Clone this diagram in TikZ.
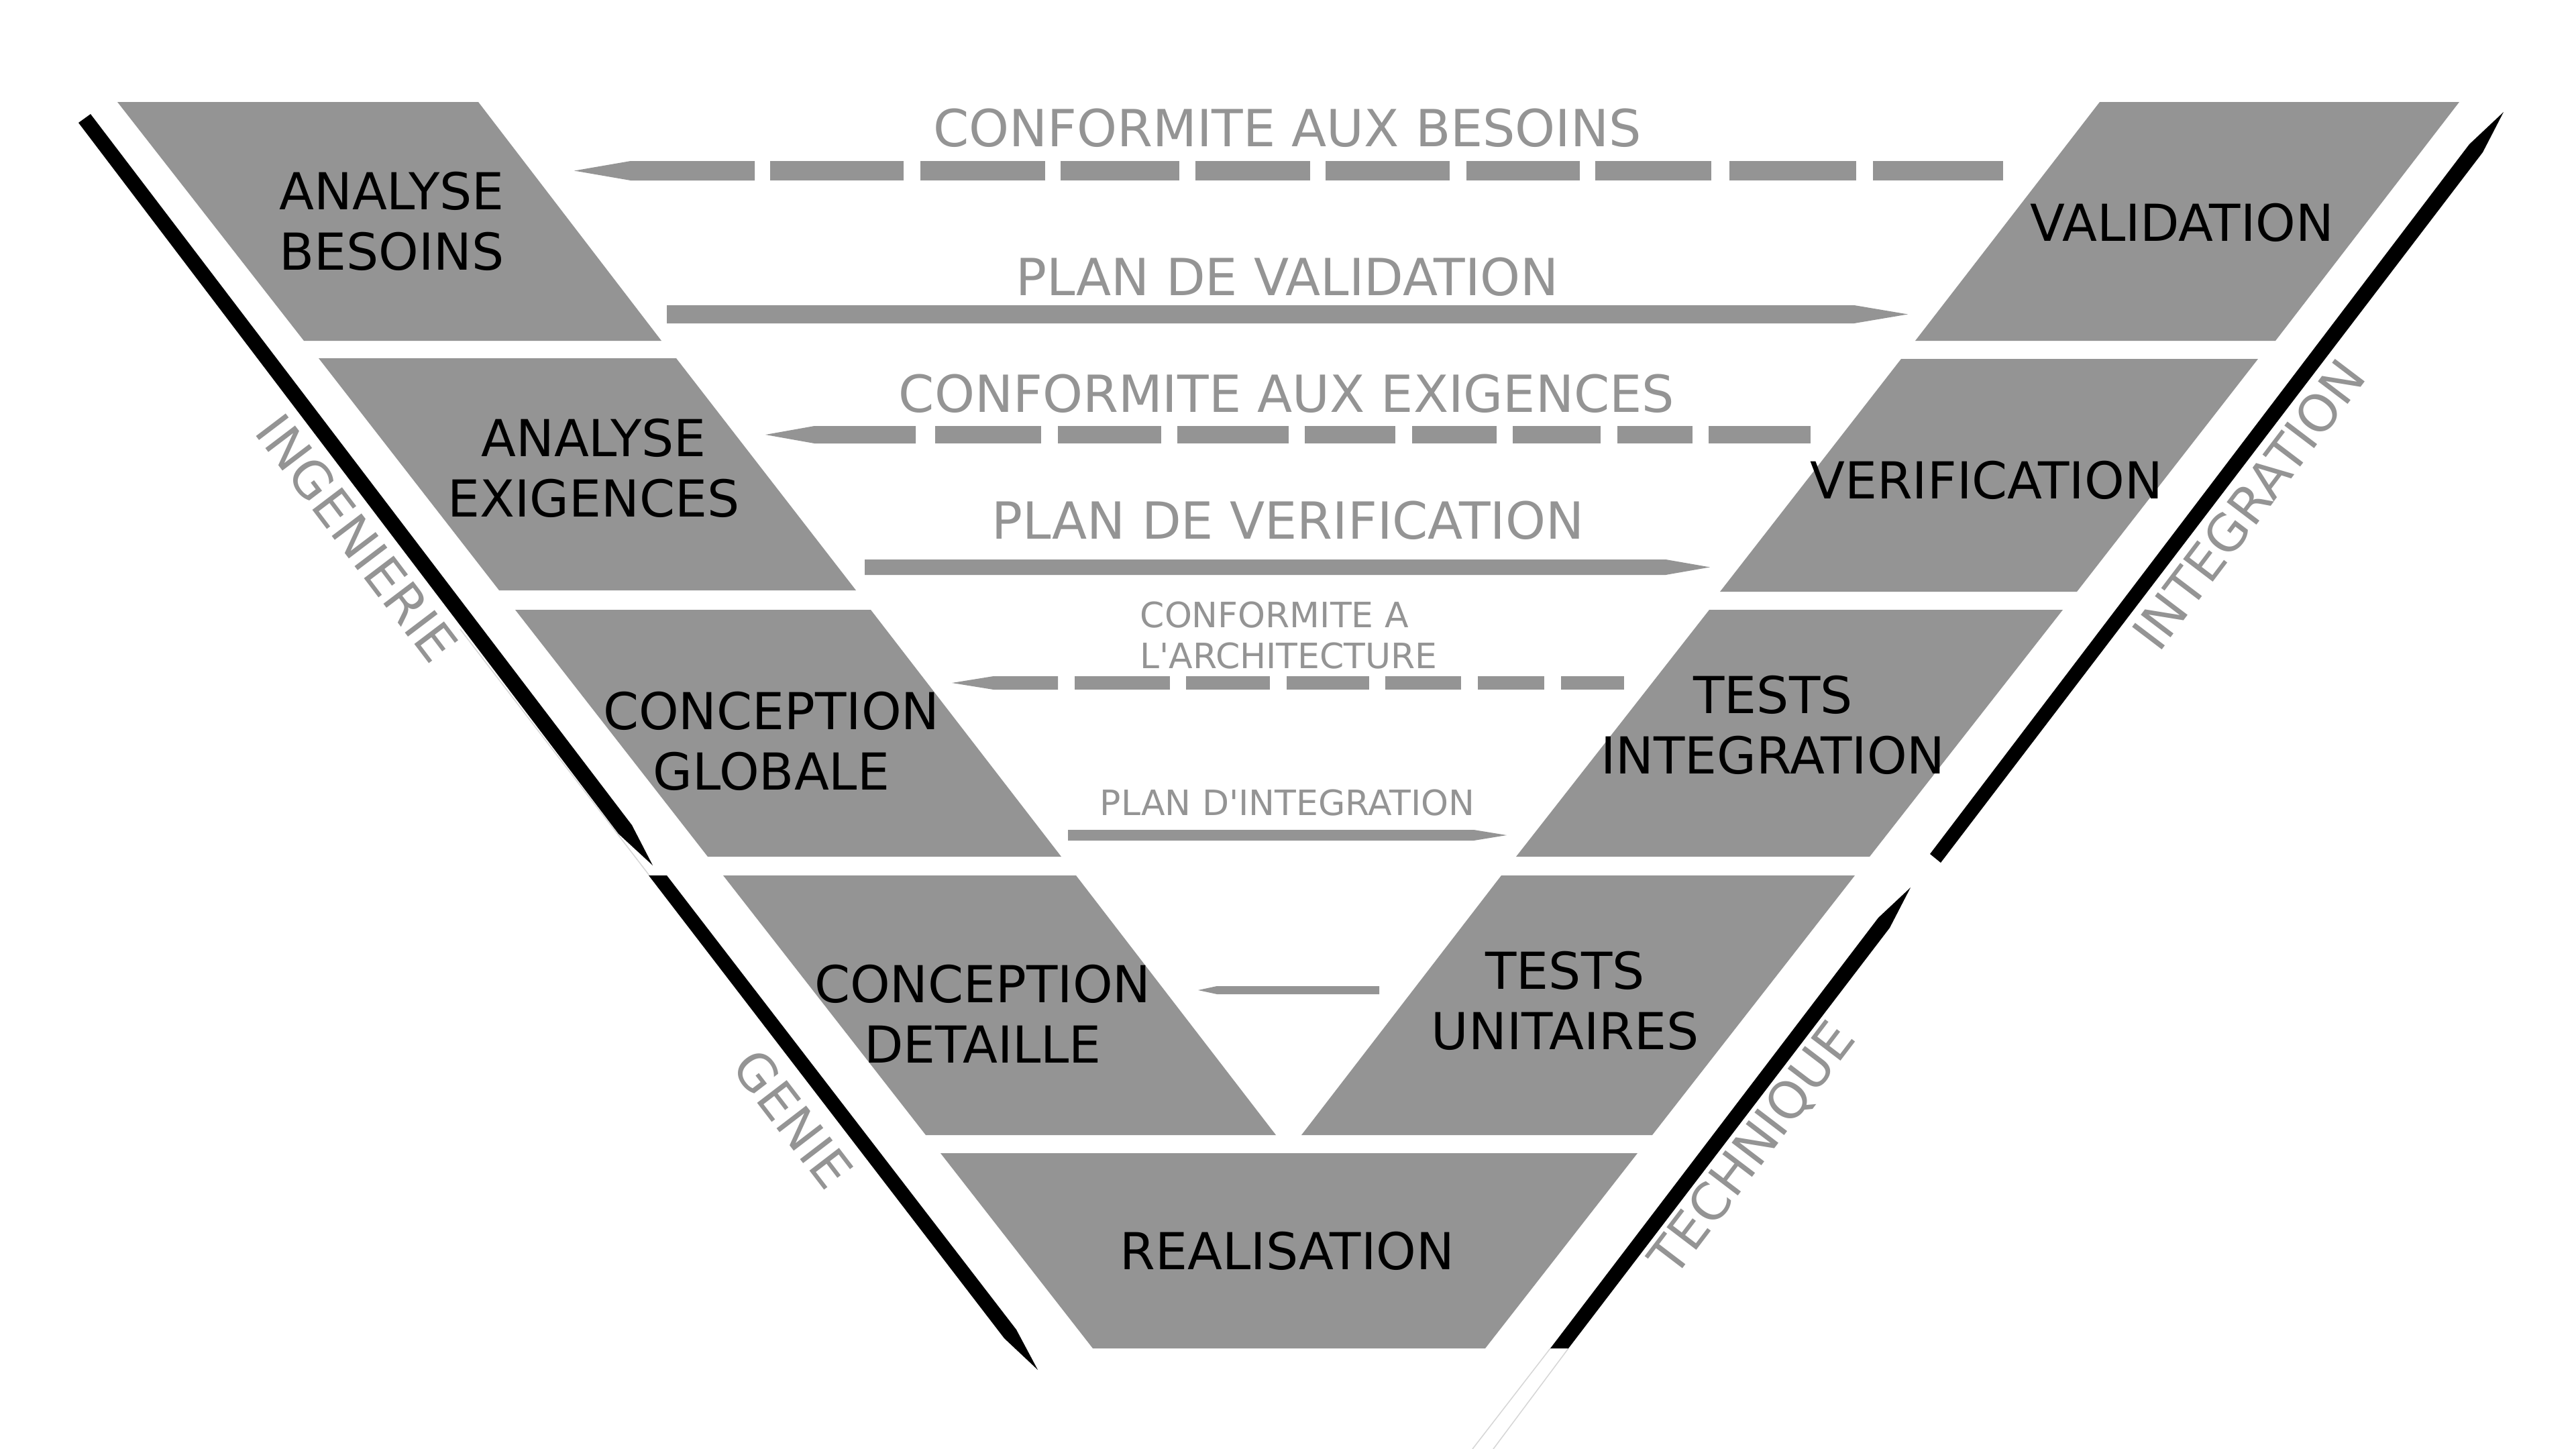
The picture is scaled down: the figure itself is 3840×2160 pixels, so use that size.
\documentclass[tikz,border=0pt]{standalone}
\usepackage{fontspec}
\setmainfont{DejaVu Sans}
\definecolor{vgray}{HTML}{949494}
\definecolor{faint}{HTML}{D6D6D6}
\begin{document}
\begin{tikzpicture}[x=0.1mm,y=-0.1mm,
  box/.style={fill=vgray},
  bar/.style={fill=black},
  arr/.style={fill=vgray},
  thinline/.style={draw=faint, line width=0.15mm},
  lbl/.style={inner sep=0pt, align=center, font=\fontsize{21.6pt}{25.6pt}\selectfont},
  glbl/.style={inner sep=0pt, text=vgray, font=\fontsize{21.7pt}{25.6pt}\selectfont},
  slbl/.style={inner sep=0pt, text=vgray, align=left, font=\fontsize{14.8pt}{17.36pt}\selectfont},
]
\fill[white] (0,0) rectangle (3840,2160);
\useasboundingbox (0,0) rectangle (3840,2160);

% faint guide lines
\draw[thinline] (686,938) -- (968,1305);
\draw[thinline] (2311,2010) -- (2195,2160);
\draw[thinline] (2338,2010) -- (2226,2160);

% boxes (left branch)
\fill[box] (175,152) -- (713,152) -- (986,508) -- (453,508) -- cycle;
\fill[box] (475,534) -- (1008,534) -- (1276,880) -- (744,880) -- cycle;
\fill[box] (768,909) -- (1298,909) -- (1582,1277) -- (1055,1277) -- cycle;
\fill[box] (1078,1305) -- (1604,1305) -- (1902,1692) -- (1380,1692) -- cycle;
% bottom
\fill[box] (1402,1719) -- (2441,1719) -- (2214,2010) -- (1629,2010) -- cycle;
% boxes (right branch)
\fill[box] (2238,1305) -- (2765,1305) -- (2463,1692) -- (1940,1692) -- cycle;
\fill[box] (2548,909) -- (3075,909) -- (2787,1277) -- (2260,1277) -- cycle;
\fill[box] (2834,535) -- (3366,535) -- (3096,882) -- (2564,882) -- cycle;
\fill[box] (3130,152) -- (3666,152) -- (3392,508) -- (2855,508) -- cycle;

% black bars
\fill[bar] (117,183) -- (135,170) -- (942,1230) -- (973,1290) -- (922,1243) -- cycle;
\fill[bar] (967,1305) -- (994,1305) -- (1515,1982) -- (1547,2042) -- (1497,1995) -- cycle;
\fill[bar] (3732,167) -- (3701,227) -- (2893,1286) -- (2877,1273) -- (3681,215) -- cycle;
\fill[bar] (2848,1323) -- (2817,1383) -- (2338,2010) -- (2311,2010) -- (2800,1368) -- cycle;

% arrow 1: conformite aux besoins (dashed, left)
\fill[arr] (856,254.5) -- (940,240) -- (1125,240) -- (1125,269) -- (940,269) -- cycle;
\foreach \a/\b in {1148/1347,1372/1558,1581/1758,1782/1953,1976/2161,2186/2355,2378/2551,2578/2767,2792/2986}
  \fill[arr] (\a,240) rectangle (\b,269);
% arrow 2: plan de validation (solid, right)
\fill[arr] (994,455) -- (2764,455) -- (2844,468.5) -- (2764,482) -- (994,482) -- cycle;
% arrow 3: conformite aux exigences (dashed, left)
\fill[arr] (1141,648) -- (1214,635) -- (1365,635) -- (1365,661) -- (1214,661) -- cycle;
\foreach \a/\b in {1394/1552,1577/1731,1755/1921,1945/2080,2105/2231,2255/2386,2411/2523,2547/2699}
  \fill[arr] (\a,635) rectangle (\b,661);
% arrow 4: plan de verification (solid, right)
\fill[arr] (1289,834) -- (2483,834) -- (2549,845.5) -- (2483,857) -- (1289,857) -- cycle;
% arrow 5: conformite a l'architecture (dashed, left)
\fill[arr] (1419,1018) -- (1481,1008) -- (1577,1008) -- (1577,1028) -- (1481,1028) -- cycle;
\foreach \a/\b in {1602/1744,1768/1893,1918/2041,2065/2178,2203/2302,2327/2421}
  \fill[arr] (\a,1008) rectangle (\b,1028);
% arrow 6: plan d'integration (solid, right)
\fill[arr] (1592,1237) -- (2197,1237) -- (2246,1245) -- (2197,1253) -- (1592,1253) -- cycle;
% arrow 7: short (solid, left)
\fill[arr] (1786,1476) -- (1814,1470) -- (2056,1470) -- (2056,1482) -- (1814,1482) -- cycle;

% box labels
\node[lbl] (anb) at (584,330) {ANALYSE\\BESOINS};
\node[lbl] (ane) at (885,698) {ANALYSE\\EXIGENCES};
\node[lbl] (cog) at (1150,1105) {CONCEPTION\\GLOBALE};
\node[lbl] (cod) at (1465,1511.5) {CONCEPTION\\DETAILLE};
\node[lbl] (rea) at (1919,1865) {REALISATION};
\node[lbl] (tun) at (2333,1491.5) {TESTS\\UNITAIRES};
\node[lbl] (tin) at (2643,1080.5) {TESTS\\INTEGRATION};
\node[lbl] (ver) at (2961,716) {VERIFICATION};
\node[lbl] (val) at (3253,332) {VALIDATION};

% arrow labels
\node[glbl] (cab) at (1919,190.5) {CONFORMITE AUX BESOINS};
\node[glbl] (pdv) at (1919,412.5) {PLAN DE VALIDATION};
\node[glbl] (cae) at (1918,586.5) {CONFORMITE AUX EXIGENCES};
\node[glbl] (pve) at (1920,776) {PLAN DE VERIFICATION};
\node[slbl, anchor=west] (caa) at (1699,947) {CONFORMITE A\\L\textquotesingle ARCHITECTURE};
\node[slbl] (pdi) at (1919,1196.5) {PLAN D\textquotesingle INTEGRATION};

% side labels
\node[glbl, rotate=-52.8] (ing) at (532,802) {INGENIERIE};
\node[glbl, rotate=-52.5] (gen) at (1182,1668) {GENIE};
\node[glbl, rotate=52.8] (int) at (3352,752) {INTEGRATION};
\node[glbl, rotate=52.7] (tec) at (2614,1714) {TECHNIQUE};
\end{tikzpicture}
\end{document}
